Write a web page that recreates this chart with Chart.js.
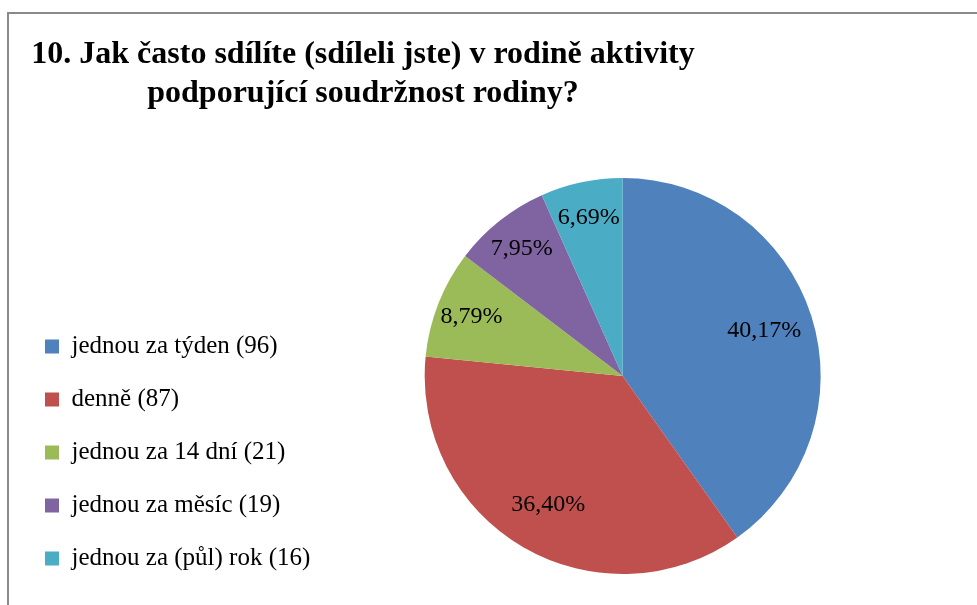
<!DOCTYPE html>
<html>
<head>
<meta charset="utf-8">
<script src="https://cdn.jsdelivr.net/npm/chart.js@4.4.1/dist/chart.umd.min.js"></script>
<style>
	body { margin: 0; background: #fff; }
	#wrap { position: relative; width: 977px; height: 605px; overflow: hidden; background: #fff; }
	#frame { position: absolute; left: 7px; top: 12px; width: 1100px; height: 800px; border: 2px solid #8a8a8a; }
	#title { position: absolute; left: 0; top: 33px; width: 726px; text-align: center;
		font: bold 32px "Liberation Serif", "Times New Roman", serif; line-height: 39px; color: #000; }
	#chart { position: absolute; left: 0; top: 0; }
</style>
</head>
<body>
<div id="wrap">
	<div id="frame"></div>
	<canvas id="chart" width="977" height="605"></canvas>
	<div id="title">10. Jak často sdílíte (sdíleli jste) v rodině aktivity<br>podporující soudržnost rodiny?</div>
</div>
<script>
var categories = ['jednou za týden', 'denně', 'jednou za 14 dní', 'jednou za měsíc', 'jednou za (půl) rok'];
var counts = [96, 87, 21, 19, 16];
var colors = ['#4F81BD', '#C0504D', '#9BBB59', '#8064A2', '#4BACC6'];

var total = counts.reduce(function(a, b){ return a + b; }, 0);
var legendLabels = categories.map(function(c, i){ return c + ' (' + counts[i] + ')'; });

// procenta do výsečí
var pctLabels = {
	id: 'pctLabels',
	afterDatasetsDraw: function(chart){
		var ctx = chart.ctx;
		var meta = chart.getDatasetMeta(0);
		ctx.save();
		ctx.font = '24px "Liberation Serif", "Times New Roman", serif';
		ctx.fillStyle = '#000';
		ctx.textAlign = 'center';
		ctx.textBaseline = 'middle';
		meta.data.forEach(function(arc, i){
			var p = arc.getProps(['x', 'y', 'startAngle', 'endAngle', 'outerRadius'], true);
			var mid = (p.startAngle + p.endAngle) / 2;
			var share = counts[i] / total;
			var r = p.outerRadius * (share > 0.25 ? 0.75 : 0.82);
			var txt = (share * 100).toFixed(2).replace('.', ',') + '%';
			ctx.fillText(txt, p.x + Math.cos(mid) * r, p.y + Math.sin(mid) * r);
		});
		ctx.restore();
	}
};

var pieChart = new Chart(document.getElementById('chart'), {
	type: 'pie',
	data: {
		labels: legendLabels,
		datasets: [{
			data: counts,
			backgroundColor: colors,
			borderWidth: 0,
			radius: 198
		}]
	},
	options: {
		responsive: false,
		animation: false,
		layout: { padding: { left: 17, right: 52, top: 153, bottom: 6 } },
		plugins: {
			legend: {
				position: 'left',
				align: 'end',
				labels: {
					boxWidth: 14,
					boxHeight: 14,
					padding: 28,
					color: '#000',
					font: { family: '"Liberation Serif", "Times New Roman", serif', size: 25 }
				}
			},
			tooltip: { enabled: false }
		}
	},
	plugins: [pctLabels]
});
</script>
</body>
</html>
